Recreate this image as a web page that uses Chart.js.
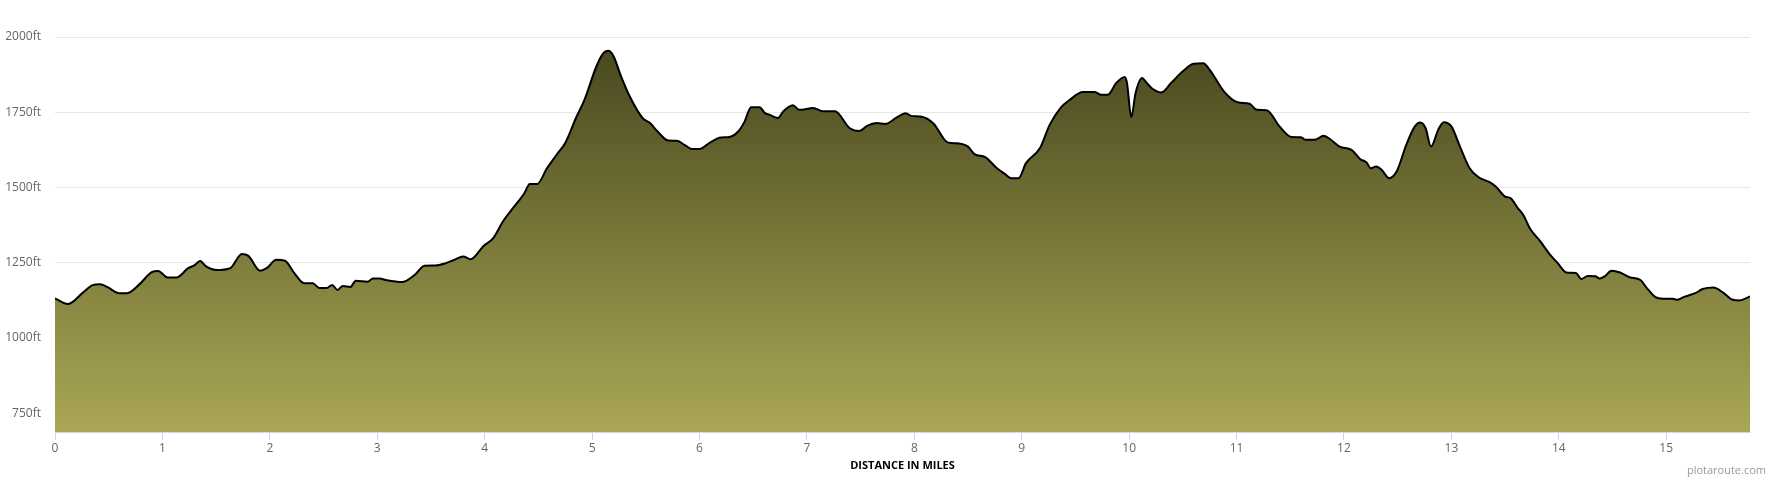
<!DOCTYPE html>
<html>
<head>
<meta charset="utf-8">
<script src="https://cdn.jsdelivr.net/npm/chart.js@4/dist/chart.umd.min.js"></script>
<style>
    body { margin: 0; background: #fff; }
    #wrap { width: 1770px; height: 480px; position: relative; }
</style>
</head>
<body>
<div id="wrap"><canvas id="myChart" width="1770" height="480"></canvas></div>
<script>
// distancia em milhas / elevacao em pes
var distancias = [0.00, 0.12, 0.26, 0.35, 0.42, 0.49, 0.60, 0.67, 0.79, 0.90, 0.96, 1.05, 1.13, 1.24, 1.30, 1.35, 1.41, 1.50, 1.63, 1.74,
    1.80, 1.91, 1.97, 2.06, 2.14, 2.23, 2.32, 2.40, 2.46, 2.53, 2.58, 2.63, 2.68, 2.75, 2.80, 2.91, 2.96, 3.02, 3.09, 3.23,
    3.27, 3.35, 3.44, 3.54, 3.64, 3.72, 3.80, 3.87, 3.99, 4.08, 4.17, 4.30, 4.37, 4.42, 4.49, 4.58, 4.67, 4.75, 4.85, 4.93,
    5.04, 5.10, 5.15, 5.20, 5.27, 5.35, 5.47, 5.54, 5.61, 5.71, 5.79, 5.86, 5.93, 6.00, 6.10, 6.20, 6.28, 6.36, 6.42, 6.48,
    6.56, 6.61, 6.65, 6.73, 6.78, 6.87, 6.93, 7.06, 7.15, 7.26, 7.40, 7.49, 7.56, 7.65, 7.73, 7.83, 7.92, 7.97, 8.07, 8.18,
    8.31, 8.39, 8.50, 8.56, 8.66, 8.77, 8.84, 8.90, 8.97, 9.04, 9.17, 9.26, 9.36, 9.45, 9.57, 9.68, 9.74, 9.80, 9.88, 9.96,
    9.98, 10.02, 10.06, 10.12, 10.16, 10.22, 10.30, 10.39, 10.50, 10.60, 10.69, 10.75, 10.89, 11.01, 11.12, 11.19, 11.28, 11.40, 11.51, 11.60,
    11.64, 11.73, 11.81, 11.88, 11.96, 12.07, 12.15, 12.21, 12.25, 12.30, 12.35, 12.42, 12.49, 12.58, 12.66, 12.71, 12.76, 12.81, 12.88, 12.93,
    13.00, 13.08, 13.17, 13.25, 13.36, 13.42, 13.50, 13.55, 13.62, 13.67, 13.73, 13.83, 13.92, 13.99, 14.07, 14.16, 14.21, 14.27, 14.34, 14.38,
    14.43, 14.49, 14.57, 14.66, 14.76, 14.82, 14.90, 14.97, 15.06, 15.10, 15.16, 15.27, 15.34, 15.44, 15.53, 15.62, 15.68, 15.78];

var elevacoes = [1132, 1113, 1151, 1176, 1179, 1169, 1149, 1149, 1180, 1219, 1223, 1201, 1201, 1232, 1242, 1256, 1237, 1226, 1232, 1279,
    1273, 1224, 1232, 1260, 1257, 1215, 1182, 1182, 1166, 1166, 1176, 1160, 1173, 1170, 1190, 1187, 1198, 1198, 1192, 1186,
    1190, 1210, 1240, 1241, 1249, 1260, 1271, 1262, 1306, 1332, 1387, 1448, 1481, 1512, 1512, 1564, 1609, 1648, 1731, 1792,
    1902, 1944, 1954, 1936, 1869, 1803, 1731, 1714, 1686, 1656, 1655, 1642, 1628, 1628, 1650, 1666, 1668, 1686, 1719, 1767,
    1767, 1747, 1742, 1731, 1753, 1773, 1758, 1764, 1753, 1753, 1697, 1688, 1705, 1714, 1711, 1731, 1747, 1738, 1735, 1712,
    1650, 1647, 1636, 1611, 1601, 1564, 1546, 1531, 1531, 1581, 1631, 1708, 1764, 1792, 1817, 1817, 1808, 1808, 1847, 1867,
    1847, 1734, 1814, 1864, 1849, 1827, 1816, 1847, 1886, 1911, 1913, 1891, 1816, 1783, 1778, 1758, 1757, 1703, 1668, 1667,
    1659, 1659, 1672, 1658, 1636, 1625, 1595, 1583, 1564, 1570, 1559, 1531, 1553, 1642, 1703, 1716, 1697, 1636, 1694, 1717,
    1703, 1636, 1564, 1535, 1517, 1501, 1470, 1465, 1431, 1409, 1365, 1320, 1276, 1249, 1218, 1216, 1196, 1206, 1205, 1198,
    1206, 1224, 1218, 1202, 1193, 1166, 1136, 1131, 1131, 1127, 1136, 1149, 1163, 1168, 1151, 1127, 1125, 1138];

var ticksElev = [750, 1000, 1250, 1500, 1750, 2000];
var ticksDist = [0, 1, 2, 3, 4, 5, 6, 7, 8, 9, 10, 11, 12, 13, 14, 15];

var pontos = distancias.map((d, i) => ({ x: d, y: elevacoes[i] }));

var fonte = '"Open Sans", "Noto Sans", sans-serif';

// marca d'agua
const marca = {
    id: 'marca',
    afterDraw(chart) {
        var ctx = chart.ctx;
        ctx.save();
        ctx.font = '11px ' + fonte;
        ctx.fillStyle = '#999999';
        ctx.textAlign = 'right';
        ctx.textBaseline = 'middle';
        ctx.fillText('plotaroute.com', 1766, 471);
        ctx.restore();
    }
};

const data = {
    datasets: [{
        label: 'Elevação',
        data: pontos,
        borderColor: '#000000',
        borderWidth: 2,
        pointRadius: 0,
        cubicInterpolationMode: 'monotone',
        fill: 'start',
        backgroundColor: function (context) {
            var area = context.chart.chartArea;
            if (!area) return '#7d7c3a';
            var g = context.chart.ctx.createLinearGradient(0, area.top, 0, area.bottom);
            g.addColorStop(0, '#46451d');
            g.addColorStop(1, '#aaa855');
            return g;
        }
    }]
};

const config = {
    type: 'line',
    data: data,
    plugins: [marca],
    options: {
        responsive: false,
        animation: false,
        layout: { padding: { top: 37, right: 20, left: 0, bottom: 0 } },
        plugins: {
            legend: { display: false },
            tooltip: { enabled: false }
        },
        scales: {
            x: {
                type: 'linear',
                min: 0,
                max: 15.78,
                afterBuildTicks: (axis) => { axis.ticks = ticksDist.map(v => ({ value: v })); },
                afterFit: (axis) => { axis.height = 48; },
                grid: { drawOnChartArea: false, drawTicks: true, tickLength: 8, color: '#ccd6eb' },
                border: { color: '#ccd6eb', width: 1 },
                ticks: { color: '#666666', font: { family: fonte, size: 12 }, padding: 1, maxRotation: 0 },
                title: {
                    display: true,
                    text: 'DISTANCE IN MILES',
                    color: '#000000',
                    font: { family: fonte, size: 11, weight: 'bold' },
                    padding: { top: 0, bottom: 8 }
                }
            },
            y: {
                min: 688,
                max: 2000,
                afterBuildTicks: (axis) => { axis.ticks = ticksElev.map(v => ({ value: v })); },
                afterFit: (axis) => { axis.width = 55; },
                grid: { color: '#e6e6e6', drawTicks: false },
                border: { display: false },
                ticks: {
                    color: '#666666',
                    font: { family: fonte, size: 12 },
                    padding: 14,
                    callback: (v) => v + 'ft'
                }
            }
        }
    }
};

const myChart = new Chart(document.getElementById('myChart'), config);
</script>
</body>
</html>
